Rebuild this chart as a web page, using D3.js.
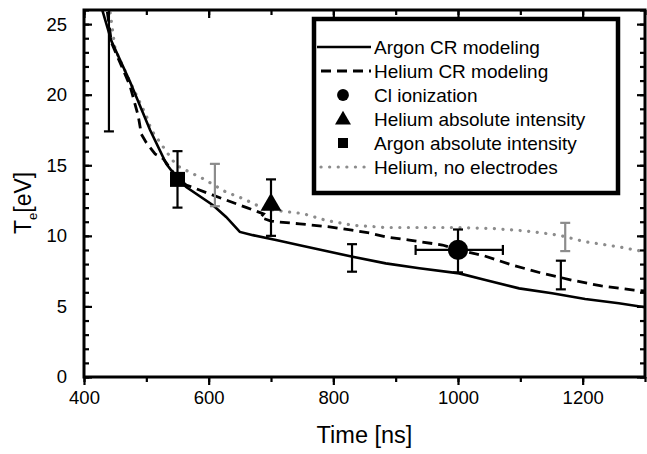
<!DOCTYPE html>
<html>
<head>
<meta charset="utf-8">
<script src="https://cdn.jsdelivr.net/npm/d3@7"></script>
<style>
body { margin: 0; background: #fff; }
text { font-family: Arial, "Liberation Sans", sans-serif; }
</style>
</head>
<body>
<svg id="chart" width="647" height="454"></svg>
<script>
// Argon CR modeling (solid)
var argonX = [422, 428, 444, 474, 490, 506, 532, 548, 564, 607, 628, 650, 671, 708, 746, 794, 831, 884, 938, 1002, 1044, 1098, 1151, 1204, 1258, 1300]
var argonY = [27, 26.2, 23.8, 20.9, 19.2, 17.5, 15.1, 14.17, 13.46, 12.17, 11.34, 10.28, 10.05, 9.7, 9.34, 8.87, 8.52, 8.05, 7.7, 7.34, 6.87, 6.28, 5.93, 5.53, 5.22, 4.94]
// Helium CR modeling (dashed)
var heliumX = [434, 444, 474, 487, 492, 500, 514, 527, 548, 564, 606, 630, 661, 688, 683, 700, 708, 746, 794, 830, 858, 884, 922, 975, 1002, 1041, 1087, 1134, 1182, 1230, 1282, 1300]
var heliumY = [27, 23.7, 20.6, 18.5, 17.2, 16.6, 15.8, 15.47, 14.2, 13.6, 12.9, 12.5, 12.0, 11.55, 11.3, 11.05, 11.0, 10.85, 10.64, 10.4, 10.2, 9.93, 9.7, 9.35, 9.0, 8.6, 7.93, 7.36, 6.87, 6.45, 6.16, 6.1]
// Helium, no electrodes (grey dots)
var noElecX = [437, 442, 450, 474, 500, 508, 535, 548, 570, 591, 628, 655, 690, 708, 751, 788, 831, 884, 938, 1002, 1055, 1108, 1162, 1204, 1258, 1300]
var noElecY = [27, 25.8, 23.2, 20.9, 18.5, 17.5, 15.8, 15.0, 14.5, 14.05, 13.1, 12.64, 11.9, 11.8, 11.58, 11.1, 10.75, 10.59, 10.59, 10.59, 10.52, 10.35, 10.05, 9.58, 9.22, 8.87]

// error bars
var errBlackX = [440, 550, 700, 830, 1000, 1165]
var errBlackLo = [17.4, 12.0, 10.0, 7.46, 7.41, 6.21]
var errBlackHi = [30, 16.0, 14.0, 9.41, 10.45, 8.24]
var errGreyX = [610, 1172]
var errGreyLo = [12.1, 8.92]
var errGreyHi = [15.1, 10.92]

// single measurements
var ciPoint = {x: 1000, y: 9.0, xlo: 932, xhi: 1072}
var heAbsPoint = {x: 700, y: 12.2}
var arAbsPoint = {x: 550, y: 14.0}

var xTicks = [400, 600, 800, 1000, 1200]
var yTicks = [0, 5, 10, 15, 20, 25]
var legendLabels = ["Argon CR modeling", "Helium CR modeling", "Cl ionization", "Helium absolute intensity", "Argon absolute intensity", "Helium, no electrodes"]

var margin = {left: 84, top: 10, right: 2, bottom: 77}
var width = 647 - margin.left - margin.right
var height = 454 - margin.top - margin.bottom

var svg = d3.select("#chart")
var g = svg.append("g").attr("transform", `translate(${margin.left},${margin.top})`)

var x = d3.scaleLinear().domain([400, 1300]).range([0, width])
var y = d3.scaleLinear().domain([0, 26]).range([height, 0])

g.append("clipPath").attr("id", "clip")
    .append("rect").attr("width", width).attr("height", height)

var plot = g.append("g").attr("clip-path", "url(#clip)")

function zip(xs, ys) { return xs.map((d, i) => [d, ys[i]]) }
var line = d3.line().x(d => x(d[0])).y(d => y(d[1]))

plot.append("path").datum(zip(noElecX, noElecY))
    .attr("d", line).attr("fill", "none")
    .attr("stroke", "#8c8c8c").attr("stroke-width", 3.2)
    .attr("stroke-linecap", "round").attr("stroke-dasharray", "0.1,8.5")
plot.append("path").datum(zip(heliumX, heliumY))
    .attr("d", line).attr("fill", "none")
    .attr("stroke", "#000").attr("stroke-width", 2.8)
    .attr("stroke-dasharray", "10,6")
plot.append("path").datum(zip(argonX, argonY))
    .attr("d", line).attr("fill", "none")
    .attr("stroke", "#000").attr("stroke-width", 2.6)

function errorBars(xs, lo, hi, color) {
    xs.forEach((d, i) => {
        var eb = plot.append("g").attr("stroke", color).attr("stroke-width", 2.2)
        eb.append("line").attr("x1", x(d)).attr("x2", x(d)).attr("y1", y(lo[i])).attr("y2", y(hi[i]))
        eb.append("line").attr("x1", x(d) - 5).attr("x2", x(d) + 5).attr("y1", y(lo[i])).attr("y2", y(lo[i]))
        eb.append("line").attr("x1", x(d) - 5).attr("x2", x(d) + 5).attr("y1", y(hi[i])).attr("y2", y(hi[i]))
    })
}
errorBars(errGreyX, errGreyLo, errGreyHi, "#8c8c8c")
errorBars(errBlackX, errBlackLo, errBlackHi, "#000")

// horizontal bar on the Cl point
var hb = plot.append("g").attr("stroke", "#000").attr("stroke-width", 2.2)
hb.append("line").attr("x1", x(ciPoint.xlo)).attr("x2", x(ciPoint.xhi)).attr("y1", y(ciPoint.y)).attr("y2", y(ciPoint.y))
hb.append("line").attr("x1", x(ciPoint.xlo)).attr("x2", x(ciPoint.xlo)).attr("y1", y(ciPoint.y) - 5).attr("y2", y(ciPoint.y) + 5)
hb.append("line").attr("x1", x(ciPoint.xhi)).attr("x2", x(ciPoint.xhi)).attr("y1", y(ciPoint.y) - 5).attr("y2", y(ciPoint.y) + 5)

var sym = d3.symbol()
plot.append("path").attr("d", sym.type(d3.symbolCircle).size(320)())
    .attr("transform", `translate(${x(ciPoint.x)},${y(ciPoint.y)})`)
plot.append("path").attr("d", sym.type(d3.symbolTriangle).size(190)())
    .attr("transform", `translate(${x(heAbsPoint.x)},${y(heAbsPoint.y)})`)
plot.append("path").attr("d", sym.type(d3.symbolSquare).size(225)())
    .attr("transform", `translate(${x(arAbsPoint.x)},${y(arAbsPoint.y)})`)

// axes, ticks inside except on bottom
var xMinor = d3.range(400, 1301, 100)
var yMinor = d3.range(0, 27, 1)
function styleAxis(sel) {
    sel.select(".domain").remove()
    sel.selectAll("line").attr("stroke", "#000").attr("stroke-width", 2.2)
    sel.selectAll("text").attr("font-size", 18.5).attr("fill", "#000")
}
g.append("g").attr("transform", `translate(0,${height})`)
    .call(d3.axisBottom(x).tickValues(xMinor).tickSize(5).tickFormat(""))
    .call(styleAxis)
g.append("g").attr("transform", `translate(0,${height})`)
    .call(d3.axisBottom(x).tickValues(xTicks).tickSize(8).tickPadding(6).tickFormat(d3.format("d")))
    .call(styleAxis)
g.append("g").call(d3.axisTop(x).tickValues(xMinor).tickSize(-5).tickFormat("")).call(styleAxis)
g.append("g").call(d3.axisTop(x).tickValues(xTicks).tickSize(-8).tickFormat("")).call(styleAxis)
g.append("g").call(d3.axisLeft(y).tickValues(yMinor).tickSize(-5).tickFormat("")).call(styleAxis)
g.append("g").call(d3.axisLeft(y).tickValues(yTicks).tickSize(-8).tickPadding(17).tickFormat(d3.format("d")))
    .call(styleAxis)
g.append("g").attr("transform", `translate(${width},0)`)
    .call(d3.axisRight(y).tickValues(yMinor).tickSize(-5).tickFormat("")).call(styleAxis)
g.append("g").attr("transform", `translate(${width},0)`)
    .call(d3.axisRight(y).tickValues(yTicks).tickSize(-8).tickFormat("")).call(styleAxis)

g.append("rect").attr("width", width).attr("height", height)
    .attr("fill", "none").attr("stroke", "#000").attr("stroke-width", 3)

// axis titles
g.append("text").attr("x", width / 2).attr("y", height + 66)
    .attr("text-anchor", "middle").attr("font-size", 23.5).text("Time [ns]")
var yt = svg.append("text").attr("transform", "translate(31,234) rotate(-90)")
    .attr("font-size", 23)
yt.append("tspan").text("T")
yt.append("tspan").attr("font-size", 13).attr("dy", 6).text("e")
yt.append("tspan").attr("dy", -6).text("[eV]")

// legend
var lg = svg.append("g")
lg.append("rect").attr("x", 314).attr("y", 19).attr("width", 304).attr("height", 174)
    .attr("fill", "#fff").attr("stroke", "#000").attr("stroke-width", 4.5)
var rowY = [47, 71, 95, 119, 143, 167]
var sx0 = 317, sx1 = 371, mx = 343
lg.append("line").attr("x1", sx0).attr("x2", sx1).attr("y1", rowY[0]).attr("y2", rowY[0])
    .attr("stroke", "#000").attr("stroke-width", 2.6)
lg.append("line").attr("x1", sx0 + 4).attr("x2", sx1).attr("y1", rowY[1]).attr("y2", rowY[1])
    .attr("stroke", "#000").attr("stroke-width", 2.8).attr("stroke-dasharray", "10,6")
lg.append("path").attr("d", sym.type(d3.symbolCircle).size(110)()).attr("transform", `translate(${mx},${rowY[2]})`)
lg.append("path").attr("d", sym.type(d3.symbolTriangle).size(110)()).attr("transform", `translate(${mx},${rowY[3] + 1})`)
lg.append("path").attr("d", sym.type(d3.symbolSquare).size(100)()).attr("transform", `translate(${mx},${rowY[4]})`)
lg.append("line").attr("x1", sx0 + 4).attr("x2", sx1).attr("y1", rowY[5]).attr("y2", rowY[5])
    .attr("stroke", "#8c8c8c").attr("stroke-width", 3.2)
    .attr("stroke-linecap", "round").attr("stroke-dasharray", "0.1,8.5")
lg.selectAll("text.lbl").data(legendLabels).enter().append("text")
    .attr("class", "lbl")
    .attr("x", 374).attr("y", (d, i) => rowY[i]).attr("dy", "0.36em")
    .attr("font-size", 19).text(d => d)
</script>
</body>
</html>
